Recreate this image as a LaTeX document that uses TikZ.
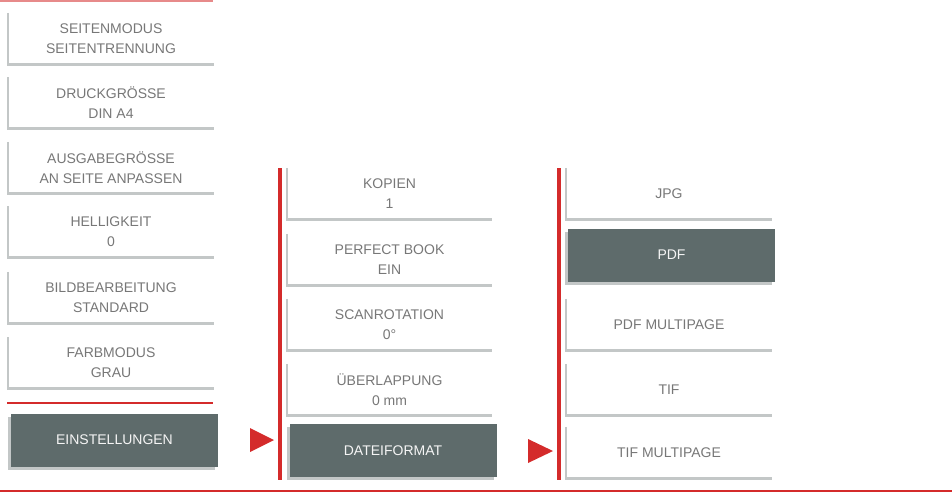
\documentclass[tikz,border=0pt]{standalone}
\usepackage{fontspec}
\setmainfont{Liberation Sans}
\usetikzlibrary{shadows}
\definecolor{menured}{HTML}{D42B2B}
\definecolor{menugray}{HTML}{C3C7C7}
\definecolor{menudark}{HTML}{5E6B6B}
\definecolor{menutext}{HTML}{777777}
\begin{document}
\begin{tikzpicture}[x=1pt,y=-1pt,
		every node/.style={font=\fontsize{14}{20}\selectfont, align=center, inner sep=0pt},
		entry/.style={minimum width=205pt, minimum height=51pt, text=menutext},
		active/.style={minimum width=207pt, minimum height=53pt, fill=menudark, text=white!92!gray,
			drop shadow={shadow xshift=-3pt, shadow yshift=-3pt, fill=menugray, opacity=1}},
		tab/.style={menugray, line width=2pt},
		tabfoot/.style={menugray, line width=3pt},
		redline/.style={menured, line width=2pt}]
		\useasboundingbox (0,0) rectangle (952,493);
		% left column
		\node[entry] (seitenmodus) at (111,38.5) {SEITENMODUS\\SEITENTRENNUNG};
		\node[entry] (druckgroesse) at (111,103) {DRUCKGRÖSSE\\DIN A4};
		\node[entry] (ausgabe) at (111,167.5) {AUSGABEGRÖSSE\\AN SEITE ANPASSEN};
		\node[entry] (helligkeit) at (111,232) {HELLIGKEIT\\0};
		\node[entry] (bildbearb) at (111,297.5) {BILDBEARBEITUNG\\STANDARD};
		\node[entry] (farbmodus) at (111,363) {FARBMODUS\\GRAU};
		\node[active] (einstellungen) at (114.5,440) {EINSTELLUNGEN};
		% middle column
		\node[entry] (kopien) at (389.5,193.5) {KOPIEN\\1};
		\node[entry] (perfect) at (389.5,259.5) {PERFECT BOOK\\EIN};
		\node[entry] (scanrot) at (389.5,324.5) {SCANROTATION\\0°};
		\node[entry] (ueberlapp) at (389.5,389.5) {ÜBERLAPPUNG\\0 mm};
		\node[active] (dateiformat) at (393,450.5) {DATEIFORMAT};
		% right column
		\node[entry] (jpg) at (669,193.5) {JPG};
		\node[active] (pdf) at (671.5,255) {PDF};
		\node[entry] (pdfmulti) at (669,324.5) {PDF MULTIPAGE};
		\node[entry] (tif) at (669,389.5) {TIF};
		\node[entry] (tifmulti) at (669,452.5) {TIF MULTIPAGE};
		\foreach \n in {seitenmodus,druckgroesse,ausgabe,helligkeit,bildbearb,farbmodus,
			kopien,perfect,scanrot,ueberlapp,jpg,pdfmulti,tif,tifmulti}{
			\draw[tab] (\n.north west) -- (\n.south west);
			\draw[tabfoot] ([xshift=-1pt]\n.south west) -- (\n.south east);
		}
		% red rules
		\draw[redline, menured!55] (0,0.5) -- (213,0.5);
		\draw[redline] (7,403) -- (213,403);
		\draw[redline] (0,490.5) -- (952,490.5);
		\draw[menured, line width=4pt] (280,168) -- (280,480);
		\draw[menured, line width=4pt] (558.5,168) -- (558.5,480);
		% markers
		\fill[menured] (250,428) -- (274,440) -- (250,452) -- cycle;
		\fill[menured] (528,439) -- (553,451) -- (528,463) -- cycle;
\end{tikzpicture}
\end{document}
